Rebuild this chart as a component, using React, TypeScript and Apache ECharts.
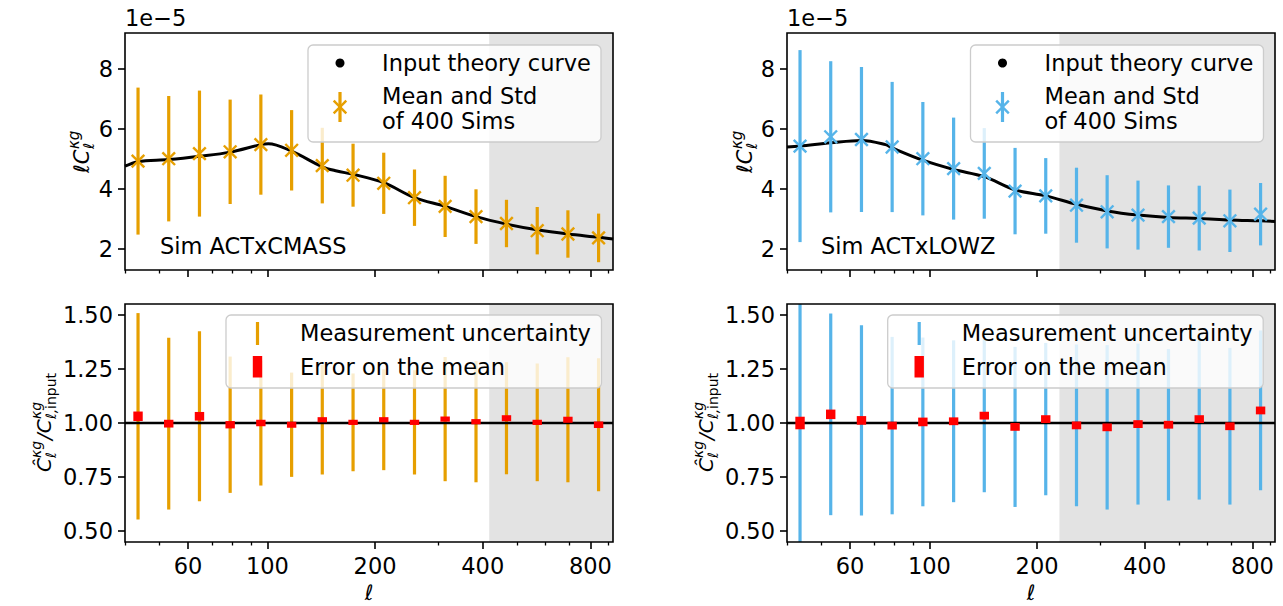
import React, { useEffect, useRef } from 'react';
import * as echarts from 'echarts';

// ---------------- data ----------------
const ELLS = [43.5, 53.0, 64.6, 78.7, 95.9, 116.9, 142.4, 173.6, 211.5, 257.8, 314, 383, 466, 568, 692, 843];
const X_MIN = 40;
const X_MAX = 925;
const X_MAJOR = [60, 100, 200, 400, 800];
const X_MINOR = [40, 50, 70, 80, 90, 300, 500, 600, 700, 900];
const TOP_Y_TICKS = [2, 4, 6, 8];
const BOT_Y_TICKS = [0.5, 0.75, 1.0, 1.25, 1.5];
const TOP_Y_MIN = 1.3;
const TOP_Y_MAX = 9.2;
const BOT_Y_MIN = 0.45;
const BOT_Y_MAX = 1.55;
const RATIO_REF = 1.0;

// CMASS (left)
const CMASS_MEAN = [4.93, 5.01, 5.18, 5.24, 5.48, 5.29, 4.78, 4.46, 4.19, 3.71, 3.42, 3.08, 2.85, 2.61, 2.5, 2.37];
const CMASS_STD = [2.45, 2.09, 2.1, 1.74, 1.67, 1.34, 1.26, 1.05, 1.02, 0.94, 1.02, 0.91, 0.79, 0.79, 0.79, 0.81];
const CMASS_THEORY_ELL = [40, 43.5, 53, 64.6, 78.7, 95.9, 100.6, 116.9, 142.4, 156.4, 173.6, 211.5, 257.8, 314, 383, 466, 568, 692, 843, 926];
const CMASS_THEORY = [4.76, 4.91, 4.98, 5.09, 5.23, 5.48, 5.51, 5.26, 4.74, 4.6, 4.49, 4.21, 3.71, 3.42, 3.08, 2.83, 2.64, 2.5, 2.39, 2.33];
const CMASS_RATIO = [1.031, 0.997, 1.031, 0.992, 1.0, 0.992, 1.015, 1.003, 1.015, 1.003, 1.018, 1.006, 1.022, 1.003, 1.015, 0.992];
const CMASS_RATIO_STD = [0.477, 0.397, 0.393, 0.315, 0.289, 0.241, 0.253, 0.226, 0.233, 0.241, 0.287, 0.28, 0.259, 0.272, 0.289, 0.307];
const CMASS_RATIO_SEM = [0.022, 0.018, 0.02, 0.017, 0.015, 0.014, 0.012, 0.012, 0.012, 0.012, 0.012, 0.012, 0.014, 0.012, 0.014, 0.015];
const CMASS_SHADE_START = 417;

// LOWZ (right)
const LOWZ_MEAN = [5.43, 5.74, 5.65, 5.4, 5.01, 4.68, 4.52, 3.93, 3.77, 3.46, 3.24, 3.13, 3.08, 3.03, 2.94, 3.16];
const LOWZ_STD = [3.2, 2.52, 2.42, 2.17, 1.89, 1.7, 1.51, 1.44, 1.26, 1.25, 1.22, 1.15, 1.04, 1.08, 1.04, 1.04];
const LOWZ_THEORY_ELL = [40, 43.5, 53, 64.6, 75.4, 78.7, 95.9, 116.9, 142.4, 173.6, 211.5, 257.8, 314, 383, 466, 568, 692, 843, 926];
const LOWZ_THEORY = [5.4, 5.43, 5.54, 5.62, 5.48, 5.37, 4.96, 4.65, 4.41, 3.97, 3.77, 3.49, 3.27, 3.13, 3.05, 3.02, 2.97, 2.94, 2.92];
const LOWZ_RATIO = [1.0, 1.04, 1.012, 0.988, 1.005, 1.008, 1.034, 0.982, 1.018, 0.989, 0.98, 0.995, 0.992, 1.018, 0.985, 1.058];
const LOWZ_RATIO_STD = [0.59, 0.466, 0.44, 0.41, 0.39, 0.374, 0.354, 0.37, 0.352, 0.374, 0.38, 0.372, 0.35, 0.372, 0.362, 0.369];
const LOWZ_RATIO_SEM = [0.029, 0.022, 0.02, 0.018, 0.02, 0.018, 0.018, 0.018, 0.018, 0.018, 0.018, 0.018, 0.018, 0.018, 0.018, 0.018];
const LOWZ_SHADE_START = 231;

// ---------------- styles ----------------
const ORANGE = '#E69F00';
const BLUE = '#56B4E9';
const SHADE = '#e3e3e3';
const FONT = 'DejaVu Sans';
const FS = 22.5;
const TICK_FS = 22.5;

const GRIDS = [
  { left: 125, top: 33, width: 488, height: 237 },
  { left: 787, top: 33, width: 488, height: 237 },
  { left: 125, top: 304, width: 488, height: 238 },
  { left: 787, top: 304, width: 488, height: 238 },
];

function shadeRender(params: any, api: any) {
  const cs = params.coordSys;
  const p = api.coord([api.value(0), api.value(1)]);
  const x0 = Math.max(cs.x, p[0]);
  return {
    type: 'rect',
    shape: { x: x0, y: cs.y, width: cs.x + cs.width - x0, height: cs.height },
    style: { fill: SHADE },
  };
}

function errRender(color: string, withX: boolean) {
  return (params: any, api: any) => {
    const cs = params.coordSys;
    const x = api.value(0);
    const m = api.value(1);
    const s = api.value(2);
    const pT = api.coord([x, m + s]);
    const pB = api.coord([x, m - s]);
    const pC = api.coord([x, m]);
    const yTop = Math.max(cs.y, pT[1]);
    const yBot = Math.min(cs.y + cs.height, pB[1]);
    const children: any[] = [
      { type: 'line', shape: { x1: pC[0], y1: yTop, x2: pC[0], y2: yBot }, style: { stroke: color, lineWidth: 3.2 } },
    ];
    if (withX) {
      const h = 6.3;
      children.push({ type: 'line', shape: { x1: pC[0] - h, y1: pC[1] - h, x2: pC[0] + h, y2: pC[1] + h }, style: { stroke: color, lineWidth: 2.4 } });
      children.push({ type: 'line', shape: { x1: pC[0] - h, y1: pC[1] + h, x2: pC[0] + h, y2: pC[1] - h }, style: { stroke: color, lineWidth: 2.4 } });
    }
    return { type: 'group', children };
  };
}

function semRender(params: any, api: any) {
  const x = api.value(0);
  const m = api.value(1);
  const s = api.value(2);
  const p1 = api.coord([x, m + s]);
  const p2 = api.coord([x, m - s]);
  return {
    type: 'rect',
    shape: { x: p1[0] - 4.7, y: p1[1], width: 9.4, height: Math.max(1, p2[1] - p1[1]) },
    style: { fill: '#ff0000' },
  };
}

function txt(x: number, y: number, text: string, opts: any = {}) {
  return {
    type: 'text',
    x,
    y,
    z: 100,
    style: {
      text,
      fill: '#000',
      fontSize: opts.fontSize || FS,
      fontFamily: FONT,
      fontStyle: opts.italic ? 'italic' : 'normal',
      textAlign: opts.align || 'left',
      align: opts.align || 'left',
      textVerticalAlign: 'middle',
      verticalAlign: 'middle',
    },
  };
}

function topLegend(bx: number, by: number, color: string) {
  const mx = bx + 32;
  const cy2 = by + 62;
  const h = 6.3;
  return [
    { type: 'rect', z: 100, shape: { x: bx, y: by, width: 293, height: 97, r: 5 }, style: { fill: 'rgba(255,255,255,0.8)', stroke: '#cccccc', lineWidth: 1.3 } },
    { type: 'circle', z: 101, shape: { cx: mx, cy: by + 18, r: 4.5 }, style: { fill: '#000' } },
    txt(bx + 74, by + 18, 'Input theory curve'),
    { type: 'line', z: 101, shape: { x1: mx, y1: by + 47, x2: mx, y2: by + 77 }, style: { stroke: color, lineWidth: 3.2 } },
    { type: 'line', z: 101, shape: { x1: mx - h, y1: cy2 - h, x2: mx + h, y2: cy2 + h }, style: { stroke: color, lineWidth: 2.4 } },
    { type: 'line', z: 101, shape: { x1: mx - h, y1: cy2 + h, x2: mx + h, y2: cy2 - h }, style: { stroke: color, lineWidth: 2.4 } },
    txt(bx + 74, by + 51, 'Mean and Std'),
    txt(bx + 74, by + 76, 'of 400 Sims'),
  ];
}

function botLegend(bx: number, by: number, w: number, color: string) {
  const mx = bx + 31.5;
  return [
    { type: 'rect', z: 100, shape: { x: bx, y: by, width: w, height: 73, r: 5 }, style: { fill: 'rgba(255,255,255,0.8)', stroke: '#cccccc', lineWidth: 1.3 } },
    { type: 'line', z: 101, shape: { x1: mx, y1: by + 7, x2: mx, y2: by + 30 }, style: { stroke: color, lineWidth: 3.2 } },
    txt(bx + 74, by + 18, 'Measurement uncertainty'),
    { type: 'rect', z: 101, shape: { x: mx - 4.7, y: by + 41, width: 9.4, height: 21.5 }, style: { fill: '#ff0000' } },
    txt(bx + 74, by + 52, 'Error on the mean'),
  ];
}

function yLabelTop(cx: number, cy: number) {
  return {
    type: 'group',
    x: cx,
    y: cy,
    rotation: Math.PI / 2,
    z: 100,
    children: [
      txt(-22, 0, 'ℓC', { italic: true, fontSize: 21 }),
      txt(2, -8, 'κg', { italic: true, fontSize: 15 }),
      txt(2, 7, 'ℓ', { italic: true, fontSize: 15 }),
    ],
  };
}

function yLabelBot(cx: number, cy: number) {
  return {
    type: 'group',
    x: cx,
    y: cy,
    rotation: Math.PI / 2,
    z: 100,
    children: [
      txt(-49, 0, 'Ĉ', { italic: true, fontSize: 20 }),
      txt(-35, -8, 'κg', { italic: true, fontSize: 14 }),
      txt(-35, 7, 'ℓ', { italic: true, fontSize: 14 }),
      txt(-17, 0, '/C', { italic: true, fontSize: 20 }),
      txt(4, -8, 'κg', { italic: true, fontSize: 14 }),
      txt(4, 7, 'ℓ,', { italic: true, fontSize: 14 }),
      txt(14, 7, 'input', { fontSize: 14 }),
    ],
  };
}

function buildOption() {
  const xAxes: any[] = [];
  GRIDS.forEach((_, i) => {
    xAxes.push({
      type: 'log',
      logBase: 10,
      gridIndex: i,
      min: X_MIN,
      max: X_MAX,
      position: 'bottom',
      axisLine: { show: false },
      splitLine: { show: false },
      axisTick: { show: true, customValues: X_MAJOR, length: 7, lineStyle: { color: '#000', width: 1.6 } },
      axisLabel: {
        show: i >= 2,
        customValues: X_MAJOR,
        color: '#000',
        fontSize: TICK_FS,
        fontFamily: FONT,
        margin: 12,
        formatter: (v: number) => String(Math.round(v)),
      },
    });
  });
  GRIDS.forEach((_, i) => {
    xAxes.push({
      type: 'log',
      logBase: 10,
      gridIndex: i,
      min: X_MIN,
      max: X_MAX,
      position: 'bottom',
      axisLine: { show: false },
      splitLine: { show: false },
      axisTick: { show: true, customValues: X_MINOR, length: 3.5, lineStyle: { color: '#000', width: 1.3 } },
      axisLabel: { show: false },
    });
  });

  const yAxes: any[] = GRIDS.map((_, i) => {
    const top = i < 2;
    const ticks = top ? TOP_Y_TICKS : BOT_Y_TICKS;
    return {
      type: 'value',
      gridIndex: i,
      min: top ? TOP_Y_MIN : BOT_Y_MIN,
      max: top ? TOP_Y_MAX : BOT_Y_MAX,
      axisLine: { show: false },
      splitLine: { show: false },
      axisTick: { show: true, customValues: ticks, length: 7, lineStyle: { color: '#000', width: 1.6 } },
      axisLabel: {
        show: true,
        customValues: ticks,
        color: '#000',
        fontSize: TICK_FS,
        fontFamily: FONT,
        margin: 12,
        formatter: (v: number) => (top ? String(Math.round(v)) : v.toFixed(2)),
      },
    };
  });

  const panels = [
    { g: 0, top: true, color: ORANGE, shade: CMASS_SHADE_START, mean: CMASS_MEAN, std: CMASS_STD, thE: CMASS_THEORY_ELL, th: CMASS_THEORY },
    { g: 1, top: true, color: BLUE, shade: LOWZ_SHADE_START, mean: LOWZ_MEAN, std: LOWZ_STD, thE: LOWZ_THEORY_ELL, th: LOWZ_THEORY },
    { g: 2, top: false, color: ORANGE, shade: CMASS_SHADE_START, mean: CMASS_RATIO, std: CMASS_RATIO_STD, sem: CMASS_RATIO_SEM },
    { g: 3, top: false, color: BLUE, shade: LOWZ_SHADE_START, mean: LOWZ_RATIO, std: LOWZ_RATIO_STD, sem: LOWZ_RATIO_SEM },
  ];

  const series: any[] = [];
  panels.forEach((p: any) => {
    const ax = { xAxisIndex: p.g, yAxisIndex: p.g };
    const yLow = p.top ? TOP_Y_MIN : BOT_Y_MIN;
    series.push({ type: 'custom', ...ax, z: 1, silent: true, renderItem: shadeRender, data: [[p.shade, yLow]], encode: { x: 0, y: 1 } });
    if (p.top) {
      series.push({
        type: 'line', ...ax, z: 2, silent: true, smooth: 0.35, showSymbol: false, symbol: 'none',
        lineStyle: { color: '#000', width: 3 },
        data: p.thE.map((e: number, i: number) => [e, p.th[i]]),
      });
      series.push({
        type: 'custom', ...ax, z: 3, silent: true, renderItem: errRender(p.color, true),
        encode: { x: 0, y: 1 },
        data: ELLS.map((e, i) => [e, p.mean[i], p.std[i]]),
      });
    } else {
      series.push({
        type: 'custom', ...ax, z: 3, silent: true, renderItem: errRender(p.color, false),
        encode: { x: 0, y: 1 },
        data: ELLS.map((e, i) => [e, p.mean[i], p.std[i]]),
      });
      series.push({
        type: 'line', ...ax, z: 4, silent: true, showSymbol: false, symbol: 'none',
        lineStyle: { color: '#000', width: 2.5 },
        data: [[X_MIN, RATIO_REF], [X_MAX, RATIO_REF]],
      });
      series.push({
        type: 'custom', ...ax, z: 5, silent: true, renderItem: semRender,
        encode: { x: 0, y: 1 },
        data: ELLS.map((e, i) => [e, p.mean[i], p.sem[i]]),
      });
    }
  });

  const graphic: any[] = [
    ...topLegend(308, 45, ORANGE),
    ...topLegend(970.5, 45, BLUE),
    ...botLegend(226, 315, 375.5, ORANGE),
    ...botLegend(887.7, 315, 375.5, BLUE),
    txt(160, 246, 'Sim ACTxCMASS'),
    txt(821, 246, 'Sim ACTxLOWZ'),
    txt(125, 18, '1e\u22125'),
    txt(787, 18, '1e\u22125'),
    txt(369, 593, 'ℓ', { italic: true, align: 'center', fontSize: 21 }),
    txt(1031, 593, 'ℓ', { italic: true, align: 'center', fontSize: 21 }),
    yLabelTop(82, 151),
    yLabelTop(745, 151),
    yLabelBot(44, 423),
    yLabelBot(706, 423),
  ];
  GRIDS.forEach((g) => {
    graphic.push({
      type: 'rect', z: 120, silent: true,
      shape: { x: g.left, y: g.top, width: g.width, height: g.height },
      style: { fill: 'none', stroke: '#000', lineWidth: 1.6 },
    });
  });

  return {
    animation: false,
    backgroundColor: '#fff',
    grid: GRIDS.map((g) => ({ ...g, containLabel: false })),
    xAxis: xAxes,
    yAxis: yAxes,
    series,
    graphic,
  };
}

export default function App() {
  const ref = useRef<HTMLDivElement>(null);
  useEffect(() => {
    if (!ref.current) return;
    const chart = echarts.init(ref.current, undefined, { renderer: 'svg' });
    chart.setOption(buildOption() as any);
    return () => chart.dispose();
  }, []);
  return <div ref={ref} style={{ position: 'absolute', left: 0, top: 0, width: 1283, height: 606 }} />;
}
